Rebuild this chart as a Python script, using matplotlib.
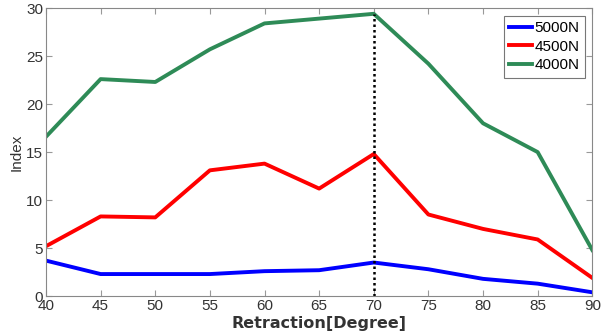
import matplotlib
matplotlib.use("Agg")
import matplotlib.pyplot as plt

plt.rcParams['font.family'] = ['Liberation Sans', 'DejaVu Sans']

retraction = [40, 45, 50, 55, 60, 65, 70, 75, 80, 85, 90]
s5000 = [3.7, 2.3, 2.3, 2.3, 2.6, 2.7, 3.5, 2.8, 1.8, 1.3, 0.4]
s4500 = [5.2, 8.3, 8.2, 13.1, 13.8, 11.2, 14.8, 8.5, 7.0, 5.9, 1.9]
s4000 = [16.6, 22.6, 22.3, 25.7, 28.4, 28.9, 29.4, 24.2, 18.0, 15.0, 4.8]
labels = ['5000N', '4500N', '4000N']
marker_x = 70

fig = plt.figure(figsize=(6.05, 3.35), dpi=100)
ax = fig.add_axes([0.076, 0.116, 0.903, 0.86])

ax.plot(retraction, s5000, color='#0000ff', lw=2.8, label=labels[0])
ax.plot(retraction, s4500, color='#ff0000', lw=2.8, label=labels[1])
ax.plot(retraction, s4000, color='#2e8b57', lw=2.8, label=labels[2])
ax.plot([marker_x, marker_x], [0, s4000[retraction.index(marker_x)]],
        color='black', lw=1.8, ls=(0, (1, 1.2)))

ax.set_xlim(40, 90)
ax.set_ylim(0, 30)
ax.set_xticks(range(40, 91, 5))
ax.set_yticks(range(0, 31, 5))
ax.tick_params(direction='in', top=True, right=True, labelsize=11,
               color='#999999', labelcolor='#333333', length=4, pad=2)
for sp in ax.spines.values():
    sp.set_color('#888888')
    sp.set_linewidth(0.8)

ax.set_xlabel('Retraction[Degree]', fontsize=11.5, fontweight='bold',
              family='DejaVu Sans', color='#333333', labelpad=2)
ax.set_ylabel('Index', fontsize=11, color='#333333', labelpad=2)

leg = ax.legend(loc='upper right', fontsize=11, frameon=True, fancybox=False,
                edgecolor='#555555', handlelength=1.5, handletextpad=0.15,
                borderpad=0.35, labelspacing=0.3, borderaxespad=0.5)
leg.get_frame().set_linewidth(0.8)

fig.savefig('out.png', dpi=100)
